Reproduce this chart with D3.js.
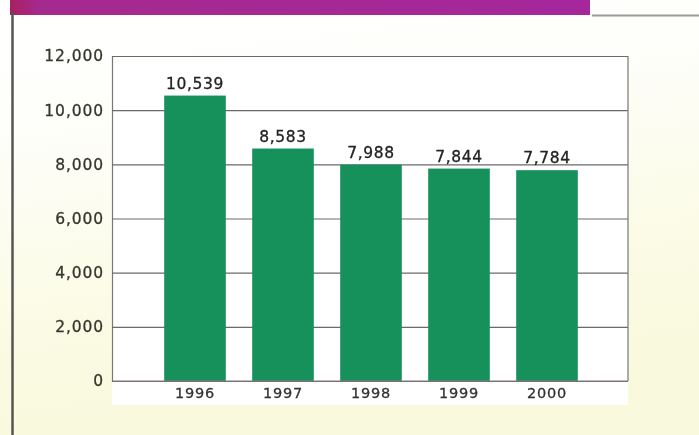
<!DOCTYPE html>
<html>
<head>
<meta charset="utf-8">
<script src="https://cdn.jsdelivr.net/npm/d3@7/dist/d3.min.js"></script>
<style>
  html, body { margin: 0; padding: 0; background: #fff; }
  svg { display: block; }
</style>
</head>
<body>
<svg id="chart" width="699" height="435"></svg>
<script>
// Annual totals, 1996–2000
const years = ["1996", "1997", "1998", "1999", "2000"];
const totals = [10539, 8583, 7988, 7844, 7784];
const yTicks = [0, 2000, 4000, 6000, 8000, 10000, 12000];

const svg = d3.select("#chart");
const W = 699, H = 435;
const FONT = "DejaVu Sans, Verdana, sans-serif";

const defs = svg.append("defs");

// page background: white at the top, fading into pale yellow
const bg = defs.append("linearGradient").attr("id", "bg")
  .attr("x1", 0).attr("y1", 0).attr("x2", 0.2).attr("y2", 1);
bg.append("stop").attr("offset", "0%").attr("stop-color", "#ffffff");
bg.append("stop").attr("offset", "30%").attr("stop-color", "#fefefa");
bg.append("stop").attr("offset", "70%").attr("stop-color", "#fbfbe6");
bg.append("stop").attr("offset", "100%").attr("stop-color", "#f9f9dd");

// header band
const band = defs.append("linearGradient").attr("id", "band")
  .attr("x1", 0).attr("y1", 0).attr("x2", 1).attr("y2", 0);
band.append("stop").attr("offset", "0%").attr("stop-color", "#a8205e");
band.append("stop").attr("offset", "5%").attr("stop-color", "#a52a8e");
band.append("stop").attr("offset", "100%").attr("stop-color", "#a4289c");

const soft = defs.append("filter").attr("id", "soft")
  .attr("filterUnits", "userSpaceOnUse")
  .attr("x", 0).attr("y", 0).attr("width", W).attr("height", H);
soft.append("feGaussianBlur").attr("stdDeviation", 0.5);

svg.append("rect").attr("width", W).attr("height", H).attr("fill", "url(#bg)");

// header strip and side rule
svg.append("rect").attr("x", 10).attr("y", 0).attr("width", 580).attr("height", 15)
  .attr("fill", "url(#band)");
svg.append("line").attr("x1", 592).attr("x2", 699).attr("y1", 15.5).attr("y2", 15.5)
  .attr("stroke", "#9a9a9a").attr("stroke-width", 2);
svg.append("line").attr("x1", 12.5).attr("x2", 12.5).attr("y1", 12).attr("y2", H)
  .attr("stroke", "#555").attr("stroke-width", 2.5).attr("filter", "url(#soft)");

// plot frame
const frameL = 112, frameR = 628, frameT = 56, frameB = 381;

const y = d3.scaleLinear().domain([0, 12000]).range([frameB, frameT]);
const x = d3.scaleBand().domain(years).range([151, 591]).paddingInner(0.3).paddingOuter(0.15);

const g = svg.append("g").attr("filter", "url(#soft)");

g.append("rect").attr("x", frameL).attr("y", frameT).attr("width", frameR - frameL).attr("height", frameB - frameT + 24)
  .attr("fill", "#ffffff");

// gridlines via the y axis
const yAxis = d3.axisLeft(y).tickValues(yTicks).tickSize(-(frameR - frameL)).tickPadding(8)
  .tickFormat(d3.format(","));
const ya = g.append("g").attr("transform", `translate(${frameL},0)`).call(yAxis);
ya.select(".domain").attr("stroke", "#777").attr("stroke-width", 1.2);
ya.selectAll(".tick line").attr("stroke", "#6a6a6a").attr("stroke-width", 1.1);
ya.selectAll(".tick text")
  .attr("font-family", FONT)
  .attr("font-size", 15.5).attr("letter-spacing", 0.9)
  .attr("fill", "#36362e").attr("stroke", "#36362e").attr("stroke-width", 0.3);

// right border of the frame
g.append("line").attr("x1", frameR).attr("x2", frameR).attr("y1", frameT).attr("y2", frameB)
  .attr("stroke", "#777").attr("stroke-width", 1.2);

// bars
g.selectAll("rect.bar").data(years).join("rect").attr("class", "bar")
  .attr("x", d => x(d))
  .attr("width", x.bandwidth())
  .attr("y", (d, i) => y(totals[i]))
  .attr("height", (d, i) => y(0) - y(totals[i]))
  .attr("fill", "#15915c");

// value labels
g.selectAll("text.val").data(years).join("text").attr("class", "val")
  .attr("x", d => x(d) + x.bandwidth() / 2)
  .attr("y", (d, i) => y(totals[i]) - 7)
  .attr("text-anchor", "middle")
  .attr("font-family", FONT)
  .attr("font-size", 15.5).attr("letter-spacing", 0.6)
  .attr("fill", "#222").attr("stroke", "#222").attr("stroke-width", 0.3)
  .text((d, i) => d3.format(",")(totals[i]));

// category axis
const xAxis = d3.axisBottom(x).tickSize(0).tickPadding(7);
const xa = g.append("g").attr("transform", `translate(0,${frameB})`).call(xAxis);
xa.select(".domain").remove();
xa.selectAll(".tick text")
  .attr("font-family", FONT)
  .attr("font-size", 14.5).attr("letter-spacing", 0.8)
  .attr("fill", "#333").attr("stroke", "#333").attr("stroke-width", 0.3);

// baseline
g.append("line").attr("x1", frameL).attr("x2", frameR).attr("y1", frameB).attr("y2", frameB)
  .attr("stroke", "#8a7a7a").attr("stroke-width", 1.2);
</script>
</body>
</html>
